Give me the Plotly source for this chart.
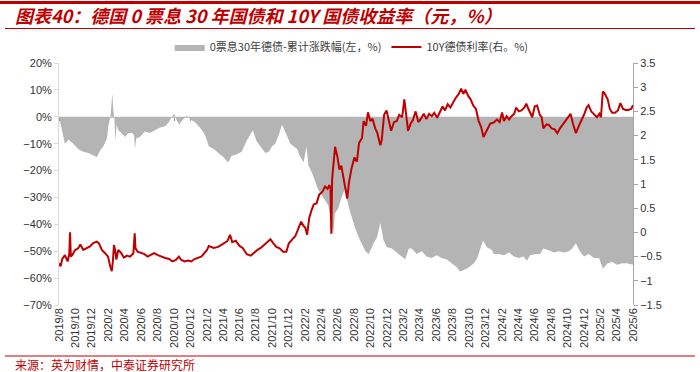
import plotly.graph_objects as go

# ---------------- data ----------------
gray_dates = [
    "2019-08-01","2019-08-05","2019-08-11","2019-08-17","2019-08-23","2019-09-05","2019-09-23",
    "2019-10-11","2019-10-30","2019-11-18","2019-12-06","2019-12-19","2020-01-01","2020-01-13",
    "2020-01-26","2020-02-01","2020-02-08","2020-02-12","2020-02-15","2020-02-19","2020-02-23",
    "2020-02-26","2020-03-02","2020-03-08","2020-03-20","2020-04-02","2020-04-14","2020-04-29",
    "2020-05-06","2020-05-09","2020-05-14","2020-05-27","2020-06-15","2020-07-03","2020-07-21",
    "2020-08-10","2020-08-29","2020-09-11","2020-09-23","2020-10-03","2020-10-10","2020-10-20",
    "2020-10-30","2020-11-18","2020-12-01","2020-12-18","2021-01-01","2021-01-13","2021-01-25",
    "2021-02-07","2021-02-25","2021-03-14","2021-04-02","2021-04-20","2021-05-03","2021-05-21",
    "2021-06-09","2021-06-27","2021-07-09","2021-07-21","2021-08-03","2021-08-15","2021-09-05",
    "2021-09-18","2021-09-30","2021-10-12","2021-10-24","2021-11-06","2021-11-11","2021-11-24",
    "2021-12-07","2021-12-19","2022-01-01","2022-01-13","2022-01-25","2022-02-05","2022-02-12",
    "2022-02-26","2022-03-08","2022-03-20","2022-04-02","2022-04-15","2022-04-27","2022-05-06",
    "2022-05-15","2022-05-21","2022-06-03","2022-06-15","2022-06-27","2022-07-06","2022-07-16",
    "2022-08-03","2022-08-23","2022-09-12","2022-09-24","2022-10-12","2022-10-24","2022-11-06",
    "2022-11-18","2022-12-01","2022-12-19","2023-01-06","2023-01-25","2023-02-06","2023-02-20",
    "2023-03-02","2023-03-21","2023-04-09","2023-04-27","2023-05-15","2023-06-03","2023-06-21",
    "2023-07-09","2023-07-29","2023-08-17","2023-08-29","2023-09-12","2023-10-01","2023-10-19",
    "2023-11-01","2023-11-13","2023-11-22","2023-12-07","2023-12-25","2024-01-01","2024-01-19",
    "2024-02-08","2024-02-27","2024-03-16","2024-04-03","2024-04-21","2024-05-03","2024-05-15",
    "2024-06-03","2024-06-21","2024-07-03","2024-07-21","2024-08-11","2024-08-29","2024-09-18",
    "2024-10-06","2024-10-18","2024-11-01","2024-11-13","2024-12-01","2024-12-19","2025-01-07",
    "2025-01-26","2025-02-09","2025-02-27","2025-03-16","2025-04-03","2025-04-21","2025-05-09",
    "2025-06-01",
]
gray_vals = [
    0, -2, -5, -8, -10, -8.5, -10,
    -12, -13, -13.5, -14.5, -15, -12.5, -11,
    -8, -3, 0, 4, 8.7, 2, -1,
    -9, -3, -5, -6, -7.5, -6, -6,
    -7, -12, -8, -7.5, -5.5, -6, -5,
    -4, -3.5, -2, 0, 1, -1, -3,
    -1.5, 0.5, -1, -2, -3.5, -5, -7,
    -11, -12, -13.5, -15, -17, -14.5, -14,
    -13, -9, -7, -5, -9, -10.5, -13.5,
    -13, -11, -10, -7, -3, -4, -7,
    -10, -11, -12, -15, -17, -11, -18,
    -21, -24, -27, -29, -31, -33, -39,
    -44, -36, -34, -30, -27, -31, -35,
    -41, -46, -50, -51, -47, -45, -39.5,
    -46, -48.5, -49, -50.5, -52, -53, -49,
    -49, -51, -50, -52, -52.5, -51.5, -52.5,
    -53, -54.5, -56, -57.5, -57, -56, -54.5,
    -52.5, -49, -46, -48.5, -49.5, -51, -51,
    -51.5, -50.5, -52, -52.5, -52, -53.5, -51.5,
    -51, -51, -49, -49.5, -50.5, -50, -50.5,
    -50, -49, -47, -49.5, -52, -51, -52.5,
    -52.5, -56.5, -54.5, -54, -55, -54.5, -54.5,
    -55,
]

yield_dates = [
    "2019-08-01","2019-08-07","2019-08-13","2019-08-23","2019-09-02","2019-09-08","2019-09-11",
    "2019-09-14","2019-09-19","2019-09-29","2019-10-11","2019-10-19","2019-10-30","2019-11-12",
    "2019-11-24","2019-12-06","2019-12-19","2019-12-27","2020-01-07","2020-01-19","2020-01-30",
    "2020-02-07","2020-02-13","2020-02-17","2020-02-21","2020-02-25","2020-03-01","2020-03-08",
    "2020-03-18","2020-03-29","2020-04-09","2020-04-21","2020-05-03","2020-05-08","2020-05-11",
    "2020-05-19","2020-06-01","2020-06-13","2020-06-25","2020-07-07","2020-07-19","2020-08-02",
    "2020-08-14","2020-08-29","2020-09-13","2020-09-25","2020-10-08","2020-10-19","2020-10-28",
    "2020-11-10","2020-11-22","2020-12-04","2020-12-16","2020-12-28","2021-01-10","2021-01-23",
    "2021-02-01","2021-02-07","2021-02-26","2021-03-14","2021-04-02","2021-04-17","2021-04-27",
    "2021-05-05","2021-05-18","2021-06-01","2021-06-13","2021-06-28","2021-07-13","2021-07-25",
    "2021-08-07","2021-08-19","2021-09-01","2021-09-13","2021-09-24","2021-10-04","2021-10-16",
    "2021-10-28","2021-11-10","2021-11-22","2021-12-01","2021-12-13","2021-12-25","2022-01-07",
    "2022-01-16","2022-01-25","2022-01-31","2022-02-07","2022-02-15","2022-02-23","2022-03-04",
    "2022-03-14","2022-03-24","2022-04-05","2022-04-15","2022-04-24","2022-05-01","2022-05-05",
    "2022-05-08","2022-05-11","2022-05-18","2022-05-22","2022-05-31","2022-06-07","2022-06-14",
    "2022-06-21","2022-07-01","2022-07-06","2022-07-13","2022-07-22","2022-08-02","2022-08-11",
    "2022-08-19","2022-08-30","2022-09-05","2022-09-14","2022-09-21","2022-09-30","2022-10-08",
    "2022-10-18","2022-10-26","2022-11-06","2022-11-11","2022-11-20","2022-11-29","2022-12-09",
    "2022-12-16","2022-12-27","2023-01-06","2023-01-15","2023-01-26","2023-02-03","2023-02-08",
    "2023-02-17","2023-02-27","2023-03-07","2023-03-17","2023-03-27","2023-04-06","2023-04-16",
    "2023-04-26","2023-05-06","2023-05-16","2023-05-25","2023-06-05","2023-06-15","2023-06-25",
    "2023-07-04","2023-07-14","2023-07-24","2023-08-04","2023-08-13","2023-08-23","2023-09-02",
    "2023-09-10","2023-09-18","2023-09-28","2023-10-07","2023-10-17","2023-10-27","2023-11-06",
    "2023-11-15","2023-11-24","2023-12-01","2023-12-10","2023-12-19","2024-01-01","2024-01-13",
    "2024-01-23","2024-02-01","2024-02-08","2024-02-18","2024-02-27","2024-03-07","2024-03-17",
    "2024-03-24","2024-04-03","2024-04-13","2024-04-24","2024-05-01","2024-05-08","2024-05-15",
    "2024-05-23","2024-06-01","2024-06-10","2024-06-20","2024-06-27","2024-07-03","2024-07-15",
    "2024-07-24","2024-08-03","2024-08-14","2024-08-24","2024-09-03","2024-09-12","2024-09-23",
    "2024-10-02","2024-10-12","2024-10-21","2024-11-01","2024-11-12","2024-11-21","2024-12-01",
    "2024-12-11","2024-12-18","2024-12-28","2025-01-07","2025-01-18","2025-01-27","2025-02-02",
    "2025-02-09","2025-02-15","2025-02-27","2025-03-07","2025-03-16","2025-03-26","2025-04-06",
    "2025-04-15","2025-04-25","2025-05-05","2025-05-15","2025-05-25","2025-06-01",
]
yield_vals = [
    -0.64, -0.70, -0.55, -0.47, -0.60, -0.45, 0.0,
    -0.50, -0.47, -0.37, -0.33, -0.25, -0.36, -0.33,
    -0.29, -0.22, -0.19, -0.22, -0.36, -0.43, -0.50,
    -0.70, -0.80, -0.60, -0.26, -0.35, -0.56, -0.36,
    -0.42, -0.52, -0.48, -0.50, -0.43, -0.02, -0.33,
    -0.40, -0.43, -0.45, -0.50, -0.47, -0.43, -0.47,
    -0.50, -0.53, -0.55, -0.60, -0.57, -0.50, -0.57,
    -0.60, -0.58, -0.60, -0.55, -0.53, -0.50, -0.42,
    -0.36, -0.28, -0.32, -0.30, -0.24, -0.18, -0.05,
    -0.20, -0.17, -0.28, -0.32, -0.45, -0.48, -0.42,
    -0.36, -0.32, -0.25, -0.18, -0.14, -0.22, -0.30,
    -0.33, -0.40, -0.40, -0.23, -0.15, -0.08, 0.10,
    0.22, 0.13, 0.10, -0.05, 0.30, 0.45, 0.58,
    0.60, 0.78, 0.84, 0.95, 0.90, 0.98, 0.90,
    -0.03, 1.10, 1.60, 1.77, 1.55, 1.30, 1.38,
    1.15, 0.90, 0.70, 1.05, 1.32, 1.55, 1.46,
    1.85, 1.95, 2.30, 2.20, 2.48, 2.30, 2.35,
    2.15, 2.05, 1.80, 1.90, 2.43, 2.52, 2.25,
    2.10, 2.28, 2.30, 2.43, 2.38, 2.75, 2.55,
    2.10, 2.25, 2.32, 2.50, 2.28, 2.35, 2.45,
    2.34, 2.45, 2.40, 2.47, 2.37, 2.50, 2.60,
    2.52, 2.65, 2.58, 2.70, 2.78, 2.85, 2.97,
    2.86, 2.95, 2.82, 2.75, 2.62, 2.55, 2.30,
    2.18, 1.97, 2.05, 2.17, 2.25, 2.27, 2.33,
    2.28, 2.48, 2.30, 2.40, 2.33, 2.40, 2.45,
    2.58, 2.50, 2.52, 2.58, 2.66, 2.56, 2.47,
    2.38, 2.60, 2.62, 2.43, 2.38, 2.15, 2.23,
    2.22, 2.15, 2.13, 2.05, 2.15, 2.22, 2.28,
    2.35, 2.45, 2.25, 2.05, 2.20, 2.30, 2.43,
    2.58, 2.63, 2.50, 2.45, 2.38, 2.45, 2.38,
    2.91, 2.88, 2.75, 2.55, 2.47, 2.47, 2.52,
    2.67, 2.55, 2.53, 2.53, 2.55, 2.63,
]

tick_dates = [f"{y}-{m:02d}-01" for y in range(2019, 2026) for m in range(1, 13)
              if (y, m) >= (2019, 8) and (y, m) <= (2025, 6) and (m % 2 == 0)]
tick_text = [f"{int(d[:4])}/{int(d[5:7])}" for d in tick_dates]

name_gray = "0票息30年德债-累计涨跌幅(左，%)"
name_red = "10Y德债利率(右。%)"
title_text = "图表40：德国 0 票息 30 年国债和 10Y 国债收益率（元，%）"
source_text = "来源：英为财情，中泰证券研究所"

RED = "#C00000"
CJK = "Noto Sans CJK SC"
LAT = "Liberation Sans, Arial, sans-serif"

fig = go.Figure()
fig.add_trace(go.Scatter(
    x=gray_dates, y=gray_vals, name=name_gray, mode="lines",
    line=dict(width=0, color="#B4B4B4"), fill="tozeroy", fillcolor="#B4B4B4",
    yaxis="y", xaxis="x",
))
fig.add_trace(go.Scatter(
    x=yield_dates, y=yield_vals, name=name_red, mode="lines",
    line=dict(width=2, color=RED), yaxis="y2", xaxis="x",
))
# empty trace to hold the zero-line axis
fig.add_trace(go.Scatter(x=[], y=[], xaxis="x2", yaxis="y", showlegend=False, hoverinfo="skip"))

x_range = ["2019-08-01", "2025-06-01"]

fig.update_layout(
    width=700, height=372,
    margin=dict(l=59, r=67, t=63, b=67, autoexpand=False),
    paper_bgcolor="white", plot_bgcolor="white",
    showlegend=True,
    legend=dict(orientation="h", x=0.51, xanchor="center", y=1.066, yanchor="middle",
                font=dict(family=CJK, size=11, color="#404040"),
                bgcolor="rgba(0,0,0,0)", itemwidth=30, tracegroupgap=0),
    title=dict(text=f"<b><i>{title_text}</i></b>", x=15/700, xanchor="left",
               y=1 - 16.5/372, yanchor="middle", yref="container",
               font=dict(family=CJK, size=18, color=RED)),
    xaxis=dict(type="date", range=x_range, tickvals=tick_dates, ticktext=tick_text,
               tickangle=-90, showgrid=False, zeroline=False, showline=False, ticks="",
               tickfont=dict(family=LAT, size=11, color="#333333")),
    xaxis2=dict(type="date", range=x_range, overlaying="x", anchor="free", position=70/90,
                tickvals=tick_dates, showticklabels=False, showgrid=False, zeroline=False,
                showline=True, linecolor="#BFBFBF", linewidth=1, ticks="outside", ticklen=3,
                tickcolor="#8C8C8C", layer="below traces"),
    yaxis=dict(range=[-70, 20], dtick=10, ticksuffix="%", showgrid=False, zeroline=False,
               showline=True, linecolor="#D9D9D9", ticks="outside", ticklen=4,
               tickcolor="#D9D9D9", tickfont=dict(family=LAT, size=11, color="#333333")),
    yaxis2=dict(range=[-1.5, 3.5], dtick=0.5, overlaying="y", side="right",
                showgrid=False, zeroline=False, showline=True, linecolor="#A6A6A6",
                ticks="outside", ticklen=4, tickcolor="#A6A6A6",
                tickfont=dict(family=LAT, size=11, color="#333333")),
    shapes=[
        dict(type="line", xref="paper", yref="paper", x0=-59/574, x1=641/574,
             y0=(305 - 2.5)/242, y1=(305 - 2.5)/242, line=dict(color=RED, width=3)),
        dict(type="line", xref="paper", yref="paper", x0=-54/574, x1=636/574,
             y0=(305 - 28.5)/242, y1=(305 - 28.5)/242, line=dict(color=RED, width=1)),
        dict(type="line", xref="paper", yref="paper", x0=-54/574, x1=636/574,
             y0=(305 - 356)/242, y1=(305 - 356)/242, line=dict(color=RED, width=1)),
    ],
    annotations=[
        dict(text=source_text, xref="paper", yref="paper", x=-46/574, xanchor="left",
             y=(305 - 364)/242, yanchor="middle", showarrow=False,
             font=dict(family=CJK, size=12, color=RED)),
    ],
)

fig.write_html("out.html", config={"displayModeBar": False},
               post_script="document.body.style.margin='0';document.body.style.overflow='hidden';")
